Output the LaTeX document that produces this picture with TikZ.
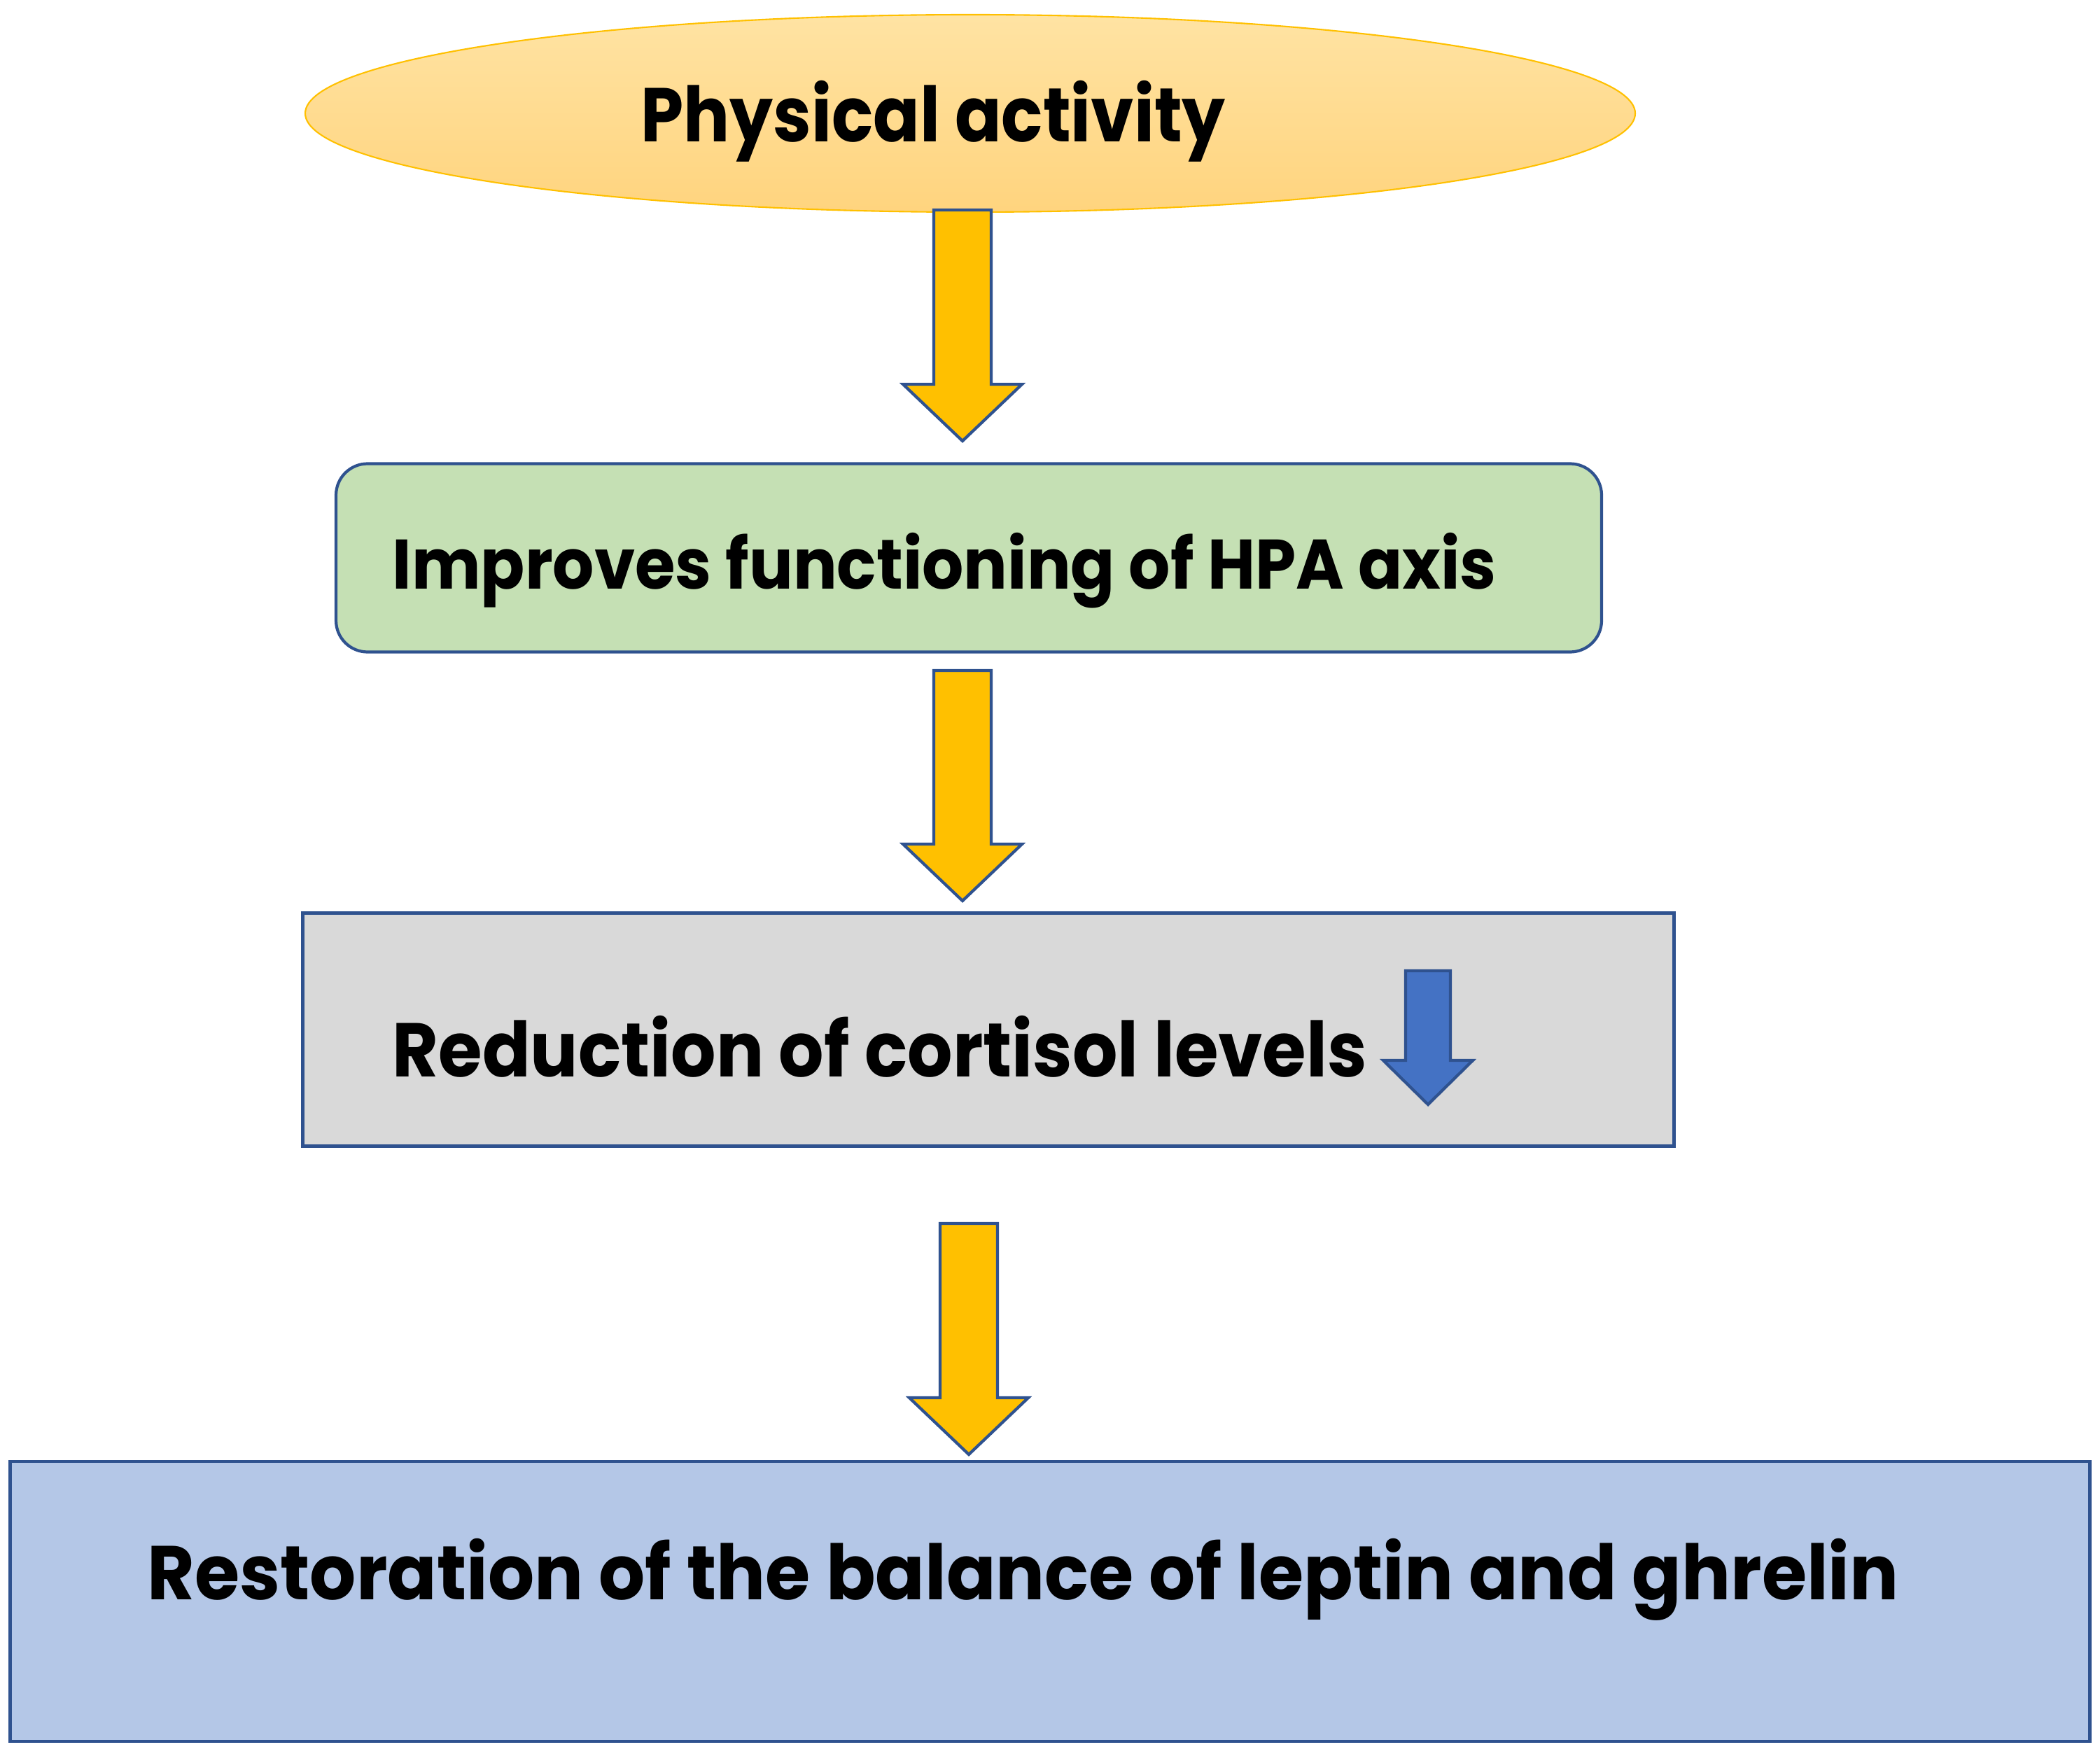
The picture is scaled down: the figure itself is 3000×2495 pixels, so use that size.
\documentclass[tikz,border=0pt]{standalone}
\usepackage{fontspec}
\setmainfont{Poppins}[FakeStretch=0.93]
\newfontfamily\patitlefont{Poppins}[FakeStretch=0.90]
\newfontfamily\wideboxfont{Poppins}[FakeStretch=0.955]
\usetikzlibrary{shapes.geometric,calc}
\definecolor{bord}{HTML}{2F528F}
\definecolor{arrowfill}{HTML}{FFC000}
\definecolor{greenfill}{HTML}{C5E0B4}
\definecolor{grayfill}{HTML}{D9D9D9}
\definecolor{bluefill}{HTML}{B4C7E7}
\definecolor{darkblue}{HTML}{4472C4}
\definecolor{elltop}{HTML}{FFE3A3}
\definecolor{ellbot}{HTML}{FFD47E}
\newcommand\blockarrow[6]{%
  \draw[#1] let \p1=(#2), \p2=(#3) in
    (\x1-#4,\y1) -- (\x1+#4,\y1) -- (\x1+#4,\y2+#6) -- (\x1+#5,\y2+#6)
    -- (\x1,\y2) -- (\x1-#5,\y2+#6) -- (\x1-#4,\y2+#6) -- cycle;}
\begin{document}
\begin{tikzpicture}[x=0.1mm,y=-0.1mm,
  frame/.style={draw=bord,line width=1.2pt,inner sep=0},
  lbl/.style={anchor=base west,inner sep=0,font=\bfseries\fontsize{31}{36}\selectfont},
  yarrow/.style={draw=bord,fill=arrowfill,line width=1.2pt},
  barrowst/.style={draw=bord,fill=darkblue,line width=1.2pt}]
\useasboundingbox (0,0) rectangle (3000,2495);
% top ellipse
\node[ellipse,draw=arrowfill,line width=0.6pt,top color=elltop,bottom color=ellbot,
  minimum width=190mm,minimum height=28.2mm,inner sep=0] (pa) at (1386,162) {};
\node[lbl,font=\patitlefont\bfseries\fontsize{31}{36}\selectfont] (patext) at (915,203) {Physical activity};
% green box
\node[frame,rounded corners=4.5mm,fill=greenfill,minimum width=180.8mm,minimum height=26.9mm] (hpa) at (1384,797) {};
\node[lbl,font=\bfseries\fontsize{28.5}{34}\selectfont] (hpatext) at (560,841) {Improves functioning of HPA axis};
% gray box
\node[frame,fill=grayfill,minimum width=195.9mm,minimum height=33.3mm] (cort) at (1412,1471) {};
\node[lbl] (corttext) at (560,1538) {Reduction of cortisol levels};
% blue box
\node[frame,fill=bluefill,minimum width=297.1mm,minimum height=40mm] (bal) at (1500,2288) {};
\node[lbl,font=\wideboxfont\bfseries\fontsize{31}{36}\selectfont] (baltext) at (210,2285) {Restoration of the balance of leptin and ghrelin};
% arrow coordinates
\coordinate (a1s) at (1375,300);
\coordinate (a1e) at (1375,630);
\coordinate (a2s) at (1375,958);
\coordinate (a2e) at (1375,1287);
\coordinate (a3s) at (1384,1748);
\coordinate (a3e) at (1384,2078);
\coordinate (bas) at (2040,1387);
\coordinate (bae) at (2040,1578);
\blockarrow{yarrow}{a1s}{a1e}{4.1mm}{8.5mm}{8.1mm}
\blockarrow{yarrow}{a2s}{a2e}{4.1mm}{8.5mm}{8.1mm}
\blockarrow{yarrow}{a3s}{a3e}{4.1mm}{8.5mm}{8.1mm}
\blockarrow{barrowst}{bas}{bae}{3.2mm}{6.4mm}{6.3mm}
\end{tikzpicture}
\end{document}
